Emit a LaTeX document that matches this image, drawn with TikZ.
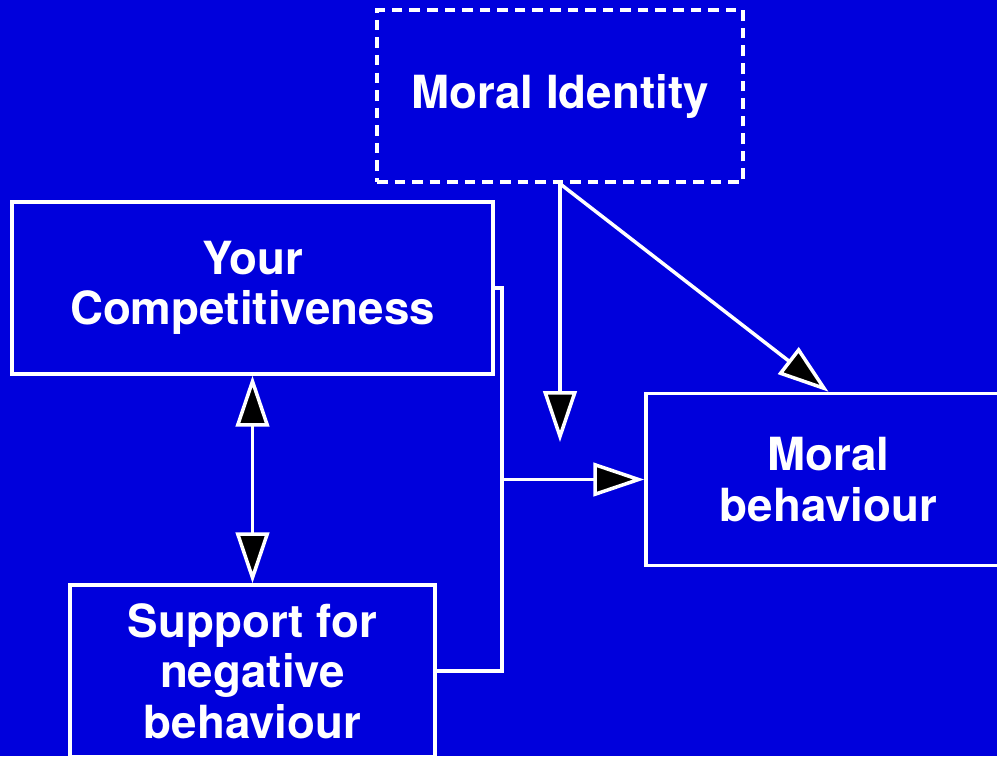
\documentclass[tikz,border=0pt]{standalone}
\usepackage{fontspec}
\setmainfont{TeX Gyre Heros}
\usepackage{xcolor}
\usepackage{tikz}
\usetikzlibrary{positioning, arrows.meta, calc}

\definecolor{bgblue}{RGB}{0,0,220}

\begin{document}
\begin{tikzpicture}[every node/.style={font=\fontsize{26}{28.8}\selectfont\bfseries, text=white, align=center},
  box/.style={draw=white, line width=2pt, fill=bgblue, rectangle, minimum height=3.44cm},
  >={Triangle[length=29pt, width=19pt, fill=black]},
  link/.style={draw=white, line width=2pt}]

% Background
\fill[bgblue] (0,0) rectangle (19.94,-15.12);
\useasboundingbox (0,0) rectangle (19.94,-15.12);
\clip (0,0) rectangle (19.94,-15.12);

% Moderator (top)
\node (identity) [box, dash pattern=on 6pt off 4pt, minimum width=7.32cm] at (11.2,-1.92) {Moral Identity};

% Predictors (left)
\node (compet) [box, minimum width=9.62cm] at (5.05,-5.76) {Your\\Competitiveness};
\node (support) [box, minimum width=7.3cm] at (5.05,-13.42) {Support for\\negative\\behaviour};

% Outcome (right)
\node (behav) [box, minimum width=7.3cm] at (16.57,-9.59) {Moral\\behaviour};

% Join points
\coordinate (join) at (10.04,-9.59);
\coordinate (modpt) at (11.2,-8.84);

% Arrows
\draw[link, <->] (compet) -- (support);
\draw[link] (compet.east) -| (join) |- (support.east);
\draw[link, ->] (join) -- (behav.west);
\draw[link, ->] (identity.south) -- (modpt);
\draw[link, ->] (identity.south) -- (behav.north);

\end{tikzpicture}
\end{document}
